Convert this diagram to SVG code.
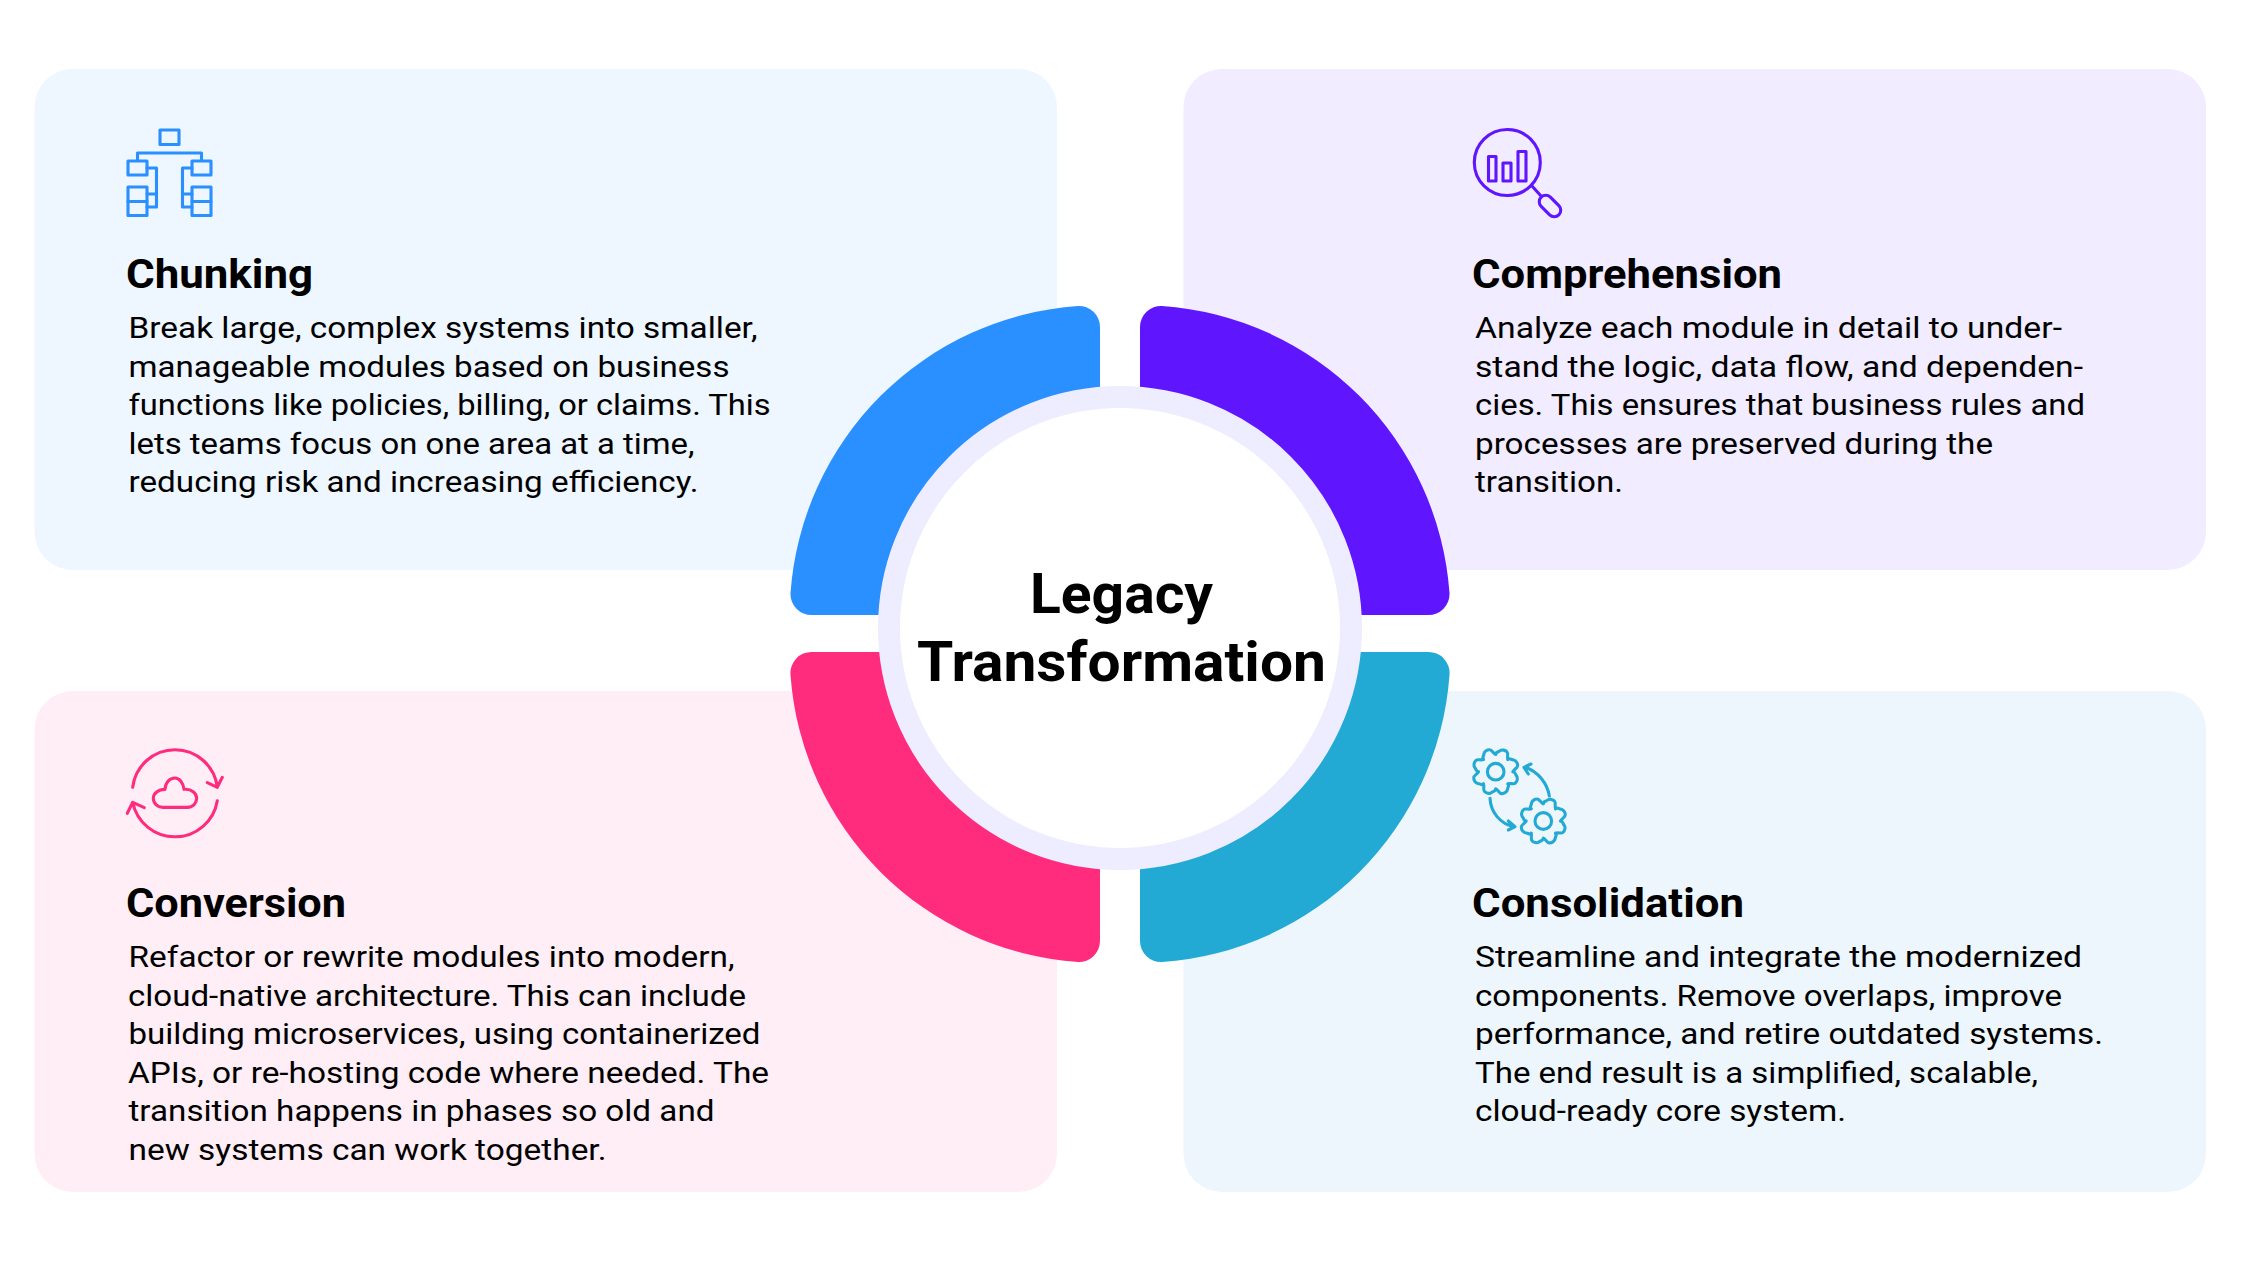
<svg xmlns="http://www.w3.org/2000/svg" xmlns:xlink="http://www.w3.org/1999/xlink" width="2241" height="1261" viewBox="0 0 2241 1261">
<style>
text{font-family:Roboto,"Noto Sans",sans-serif;fill:#000}
.b{font-size:30px;font-weight:400}
.h{font-size:41px;font-weight:700}
.c{font-size:55px;font-weight:700}
.i{fill:none;stroke-linecap:round;stroke-linejoin:round}
</style>
<defs>
<path id="tooth" d="M52 0C59 -1 58 8 63 13C67 19 65 29 59 34C54 39 44 33 36.8 36.8"/>
<g id="gear"><use href="#tooth"/><use href="#tooth" transform="rotate(45)"/><use href="#tooth" transform="rotate(90)"/><use href="#tooth" transform="rotate(135)"/><use href="#tooth" transform="rotate(180)"/><use href="#tooth" transform="rotate(225)"/><use href="#tooth" transform="rotate(270)"/><use href="#tooth" transform="rotate(315)"/><circle r="25"/></g>
</defs>
<rect width="2241" height="1261" fill="#fff"/>
<g id="chunking">
<rect x="34.5" y="69" width="1022.5" height="501" rx="38" fill="#EEF6FF"/>
<g class="i" stroke="#2A90FF" stroke-width="3.1">
<rect x="160" y="130" width="19" height="14.5"/>
<path d="M137.5 160V153H201.5V160"/>
<rect x="128" y="161" width="19" height="14"/><rect x="128" y="187" width="19" height="14.5"/><rect x="128" y="201.5" width="19" height="14"/>
<rect x="192" y="161" width="19" height="14"/><rect x="192" y="187" width="19" height="14.5"/><rect x="192" y="201.5" width="19" height="14"/>
<path d="M147 168H156.5V207H147M147 194H156.5"/>
<path d="M192 168H182.5V207H192M192 194H182.5"/>
</g>
<text class="h" x="126" y="288" textLength="187" lengthAdjust="spacingAndGlyphs">Chunking</text>
<text class="b" x="128.5" y="338" textLength="629" lengthAdjust="spacingAndGlyphs">Break large, complex systems into smaller,</text>
<text class="b" x="128.5" y="376.5" textLength="601" lengthAdjust="spacingAndGlyphs">manageable modules based on business</text>
<text class="b" x="128.5" y="415" textLength="642" lengthAdjust="spacingAndGlyphs">functions like policies, billing, or claims. This</text>
<text class="b" x="128.5" y="453.5" textLength="566" lengthAdjust="spacingAndGlyphs">lets teams focus on one area at a time,</text>
<text class="b" x="128.5" y="492" textLength="570" lengthAdjust="spacingAndGlyphs">reducing risk and increasing efficiency.</text>
</g>
<g id="comprehension">
<rect x="1183.5" y="69" width="1022.5" height="501" rx="38" fill="#F1ECFF"/>
<g class="i" stroke="#5F16FF" stroke-width="3.1">
<circle cx="1507.3" cy="162.5" r="33"/>
<rect x="1488.5" y="156.5" width="7.5" height="24.5"/><rect x="1503" y="163" width="8" height="18"/><rect x="1518" y="151.5" width="8" height="29.5"/>
<path d="M1532 186L1541 196"/>
<rect x="1537.500" y="199.500" width="25" height="13" rx="6.5" transform="rotate(45 1550 206)"/>
</g>
<text class="h" x="1472" y="288" textLength="310" lengthAdjust="spacingAndGlyphs">Comprehension</text>
<text class="b" x="1475" y="338" textLength="587" lengthAdjust="spacingAndGlyphs">Analyze each module in detail to under-</text>
<text class="b" x="1475" y="376.5" textLength="608" lengthAdjust="spacingAndGlyphs">stand the logic, data flow, and dependen-</text>
<text class="b" x="1475" y="415" textLength="610" lengthAdjust="spacingAndGlyphs">cies. This ensures that business rules and</text>
<text class="b" x="1475" y="453.5" textLength="518" lengthAdjust="spacingAndGlyphs">processes are preserved during the</text>
<text class="b" x="1475" y="492" textLength="148" lengthAdjust="spacingAndGlyphs">transition.</text>
</g>
<g id="conversion">
<rect x="34.5" y="691" width="1022.5" height="501" rx="38" fill="#FFEEF6"/>
<g class="i" stroke="#FF2C7E" stroke-width="3.1">
<path d="M132.7 787.3A42.6 42.6 0 0 1 217.3 787.3M207.3 782.7L217.3 787.3L222.3 777.3"/>
<path d="M217.3 800.7A43 43 0 0 1 132.7 802.3M127.3 813.3L132.7 802.3L144.3 807.7"/>
<path transform="translate(110 730) scale(.3333)" stroke-width="9.3" d="M158 232H232C250 232 260 218 260 205C260 190 245 176 222 178C220 158 208 144 195 144C178 144 166 158 165 178C145 178 130 190 130 205C130 220 142 232 158 232Z"/>
</g>
<text class="h" x="126" y="916.5" textLength="220" lengthAdjust="spacingAndGlyphs">Conversion</text>
<text class="b" x="128.5" y="967" textLength="606" lengthAdjust="spacingAndGlyphs">Refactor or rewrite modules into modern,</text>
<text class="b" x="128" y="1005.5" textLength="618" lengthAdjust="spacingAndGlyphs">cloud-native architecture. This can include</text>
<text class="b" x="128.5" y="1044" textLength="632" lengthAdjust="spacingAndGlyphs">building microservices, using containerized</text>
<text class="b" x="128" y="1082.5" textLength="641" lengthAdjust="spacingAndGlyphs">APIs, or re-hosting code where needed. The</text>
<text class="b" x="128.5" y="1121" textLength="586" lengthAdjust="spacingAndGlyphs">transition happens in phases so old and</text>
<text class="b" x="128.5" y="1159.5" textLength="478" lengthAdjust="spacingAndGlyphs">new systems can work together.</text>
</g>
<g id="consolidation">
<rect x="1183.5" y="691" width="1022.5" height="501" rx="38" fill="#EEF6FD"/>
<g class="i" stroke="#22AAD4" stroke-width="3.1">
<use href="#gear" transform="translate(1495.7 771.7) scale(.3333)" stroke-width="9.3"/>
<use href="#gear" transform="translate(1543.3 821) scale(.3333)" stroke-width="9.3"/>
<g transform="translate(1460 735) scale(.3333)" stroke-width="9.3">
<path d="M90 190C92 230 120 268 163 275M145 258L165 275L145 285"/>
<path d="M268 183C262 145 235 110 194 96M213 87L192 97L205 117"/>
</g>
</g>
<text class="h" x="1472" y="916.5" textLength="272" lengthAdjust="spacingAndGlyphs">Consolidation</text>
<text class="b" x="1475" y="967" textLength="607" lengthAdjust="spacingAndGlyphs">Streamline and integrate the modernized</text>
<text class="b" x="1475" y="1005.5" textLength="587" lengthAdjust="spacingAndGlyphs">components. Remove overlaps, improve</text>
<text class="b" x="1475" y="1044" textLength="628" lengthAdjust="spacingAndGlyphs">performance, and retire outdated systems.</text>
<text class="b" x="1475" y="1082.5" textLength="563" lengthAdjust="spacingAndGlyphs">The end result is a simplified, scalable,</text>
<text class="b" x="1475" y="1121" textLength="371" lengthAdjust="spacingAndGlyphs">cloud-ready core system.</text>
</g>
<g id="wheel">
<path fill="#2A90FF" d="M1100 640V327A21 21 0 0 0 1078 306A310 310 0 0 0 790.5 593A21 21 0 0 0 812 615H1100Z"/>
<path fill="#5F16FF" d="M1140 640V327A21 21 0 0 1 1162 306A310 310 0 0 1 1449.5 593A21 21 0 0 1 1428 615H1140Z"/>
<path fill="#FF2C7E" d="M1100 630V941A21 21 0 0 1 1078 962A310 310 0 0 1 790.5 675A21 21 0 0 1 812 652H1100Z"/>
<path fill="#22AAD4" d="M1140 630V941A21 21 0 0 0 1162 962A310 310 0 0 0 1449.5 675A21 21 0 0 0 1428 652H1140Z"/>
<circle cx="1120" cy="628" r="231" fill="#fff" stroke="#EEECFF" stroke-width="22"/>
<text class="c" x="1030" y="613" textLength="183" lengthAdjust="spacingAndGlyphs">Legacy</text>
<text class="c" x="917" y="681" textLength="409" lengthAdjust="spacingAndGlyphs">Transformation</text>
</g>
</svg>
